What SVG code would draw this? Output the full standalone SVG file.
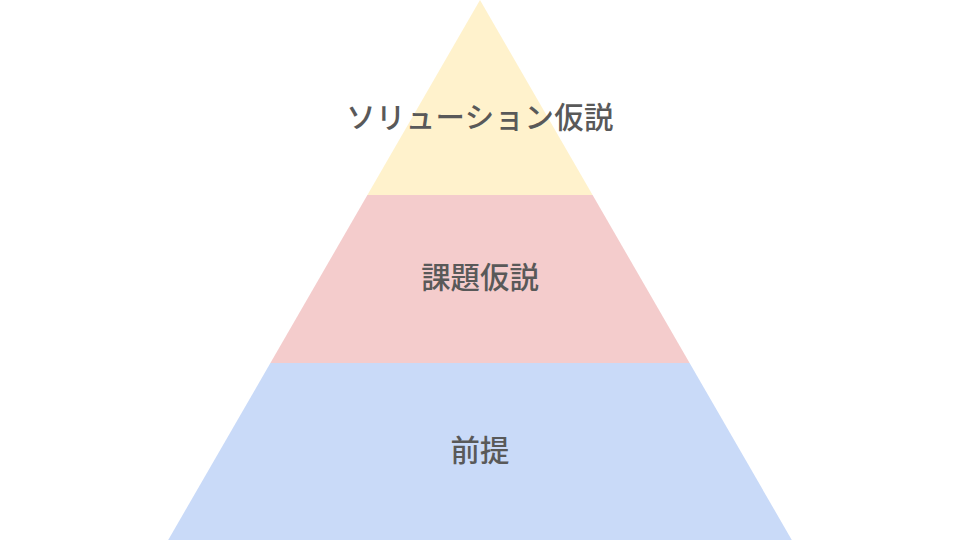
<svg xmlns="http://www.w3.org/2000/svg" width="960" height="540" viewBox="0 0 960 540">
<style>
.t{font-family:"Noto Sans CJK JP","Noto Sans",sans-serif;font-size:29.4px;font-weight:500;fill:#595959;text-anchor:middle}
</style>
<rect width="960" height="540" fill="#ffffff"/>
<g id="top">
<polygon points="480,0 592.6,195 367.4,195" fill="#FFF2CC"/>
<text class="t" x="480" y="127.5" letter-spacing="0.4">ソリューション仮説</text>
</g>
<g id="middle">
<polygon points="367.4,195 592.6,195 689.6,363 270.4,363" fill="#F4CCCC"/>
<text class="t" x="480" y="287.5">課題仮説</text>
</g>
<g id="bottom">
<polygon points="270.4,363 689.6,363 791.8,540 168.2,540" fill="#C9DAF8"/>
<text class="t" x="480" y="460.5">前提</text>
</g>
<g id="connectors"/>
</svg>
